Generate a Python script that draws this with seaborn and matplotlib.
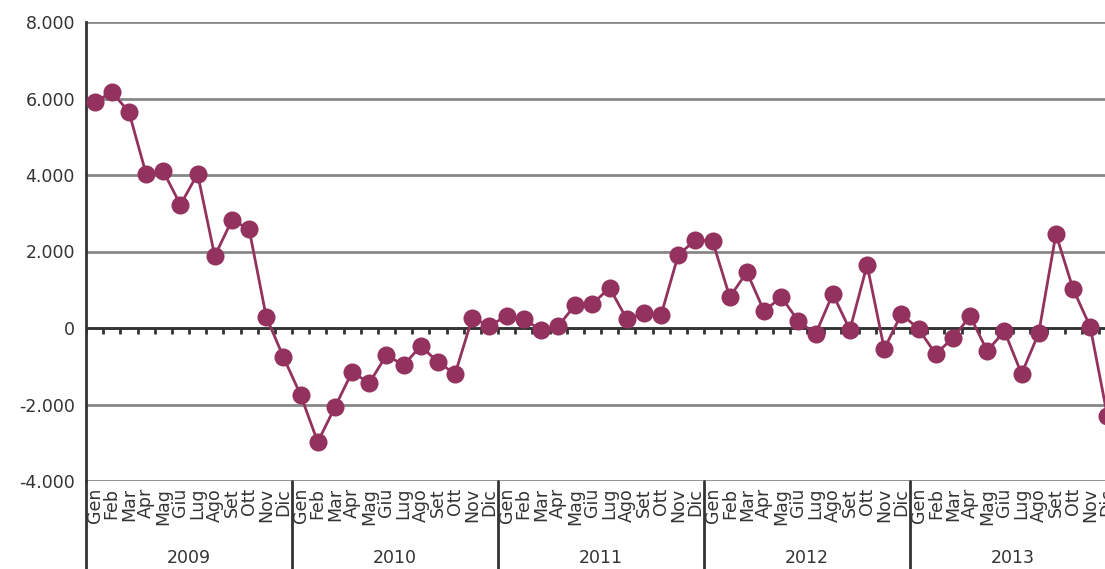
import numpy as np
import pandas as pd
import matplotlib
matplotlib.use("Agg")
import matplotlib.pyplot as plt
import matplotlib.transforms as mtransforms
from matplotlib.ticker import FuncFormatter
import seaborn as sns

# Data
months = ["Gen", "Feb", "Mar", "Apr", "Mag", "Giu", "Lug", "Ago", "Set", "Ott", "Nov", "Dic"]
years = ["2009", "2010", "2011", "2012", "2013"]

values_2009 = [5900, 6170, 5650, 4030, 4100, 3220, 4030, 1880, 2820, 2590, 290, -760]
values_2010 = [-1750, -2980, -2070, -1150, -1440, -710, -970, -470, -890, -1200, 260, 60]
values_2011 = [310, 235, -50, 50, 600, 630, 1050, 235, 390, 340, 1910, 2300]
values_2012 = [2275, 810, 1460, 440, 810, 180, -160, 890, -50, 1650, -550, 370]
values_2013 = [-30, -680, -260, 310, -600, -80, -1200, -130, 2460, 1020, 30, -2300]

y_ticks = [-4000, -2000, 0, 2000, 4000, 6000, 8000]

LINE_COLOR = "#93325F"
DARK = "#333333"
GRID = "#878787"

df = pd.DataFrame({
    "year": np.repeat(years, len(months)),
    "month": months * len(years),
    "value": values_2009 + values_2010 + values_2011 + values_2012 + values_2013,
})
df["pos"] = np.arange(len(df))

sns.set_style("white")
plt.rcParams["font.family"] = ["DejaVu Sans"]

fig = plt.figure(figsize=(11.05, 5.69), dpi=100)
# plot area runs past the right edge of the figure, like the reference
ax = fig.add_axes([86 / 1105, 88 / 569, 1030 / 1105, 459 / 569])

n = len(df)
ax.set_xlim(-0.5, n - 0.5)
ax.set_ylim(y_ticks[0], y_ticks[-1])

# horizontal grid lines
for yv in y_ticks:
    ax.axhline(yv, color=GRID, lw=2, zorder=1)
# zero line with small ticks at month boundaries
ax.axhline(0, color=DARK, lw=2, zorder=2)
ax.vlines(np.arange(-0.5, n), -160, 0, color=DARK, lw=2, zorder=2)

sns.lineplot(data=df, x="pos", y="value", ax=ax, color=LINE_COLOR, lw=2,
             marker="o", markersize=13, markeredgewidth=0, zorder=3,
             clip_on=False)

for s in ["top", "right", "bottom"]:
    ax.spines[s].set_visible(False)
ax.spines["left"].set_color(DARK)
ax.spines["left"].set_linewidth(2)

ax.set_yticks(y_ticks)
ax.yaxis.set_major_formatter(FuncFormatter(lambda v, p: f"{v:,.0f}".replace(",", ".")))
ax.tick_params(axis="y", direction="out", length=5, width=2, color=DARK,
               labelsize=12.5, labelcolor=DARK, pad=3)
ax.set_xlabel("")
ax.set_ylabel("")

# month boundaries as tick lines, month labels rotated in between
ax.set_xticks(np.arange(-0.5, n), labels=[""] * (n + 1))
ax.tick_params(axis="x", which="major", direction="out", length=39, width=2, color=DARK)
ax.set_xticks(df["pos"], labels=df["month"], minor=True)
ax.tick_params(axis="x", which="minor", length=0, pad=5, labelsize=12.5,
               labelcolor=DARK, labelrotation=90)
for lbl in ax.get_xticklabels(minor=True):
    lbl.set_verticalalignment("top")

# year separators and year labels
trans = mtransforms.blended_transform_factory(ax.transData, ax.transAxes)
for i, yr in enumerate(years):
    start = i * len(months) - 0.5
    ax.plot([start, start], [0, -88 / 459], transform=trans, color=DARK, lw=2,
            clip_on=False)
    ax.text(start + len(months) / 2, -77 / 459, yr, transform=trans, ha="center",
            va="center", fontsize=12.5, color=DARK)

fig.savefig("out.png", dpi=100)
